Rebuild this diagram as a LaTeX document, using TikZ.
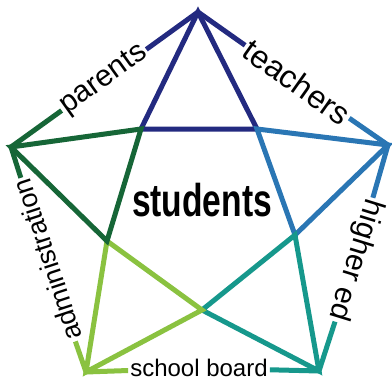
\documentclass[tikz,border=0pt]{standalone}
\usepackage{fontspec}
\usepackage{graphicx}
\setmainfont{Liberation Sans}
\definecolor{cnavy}{RGB}{35,42,128}
\definecolor{cblue}{RGB}{42,118,180}
\definecolor{cteal}{RGB}{22,152,140}
\definecolor{clgreen}{RGB}{138,194,64}
\definecolor{cdgreen}{RGB}{22,102,55}
\tikzset{
  edge/.style={line width=5pt, line join=miter, line cap=butt},
  lab/.style={inner sep=2pt, text=black},
}
\begin{document}
\begin{tikzpicture}[x=1pt,y=-1pt]
\useasboundingbox (0,0) rectangle (392,381);
% outer vertices
\coordinate (T) at (198,12);
\coordinate (R) at (388,145);
\coordinate (BR) at (319,371);
\coordinate (BL) at (86,372);
\coordinate (L) at (11,147);
% inner vertices
\coordinate (UL) at (141,129);
\coordinate (UR) at (257,129);
\coordinate (LR) at (295,235);
\coordinate (B) at (202,310);
\coordinate (LL) at (107,241);
% labels
\node[lab, rotate=35.7, font=\fontsize{30}{32}\selectfont] (parents) at (104,80) {parents};
\node[lab, rotate=-35.3, font=\fontsize{32}{34}\selectfont] (teachers) at (297,82) {teachers};
\node[lab, rotate=-107.2, font=\fontsize{30}{32}\selectfont] (higher) at (355,260) {higher ed};
\node[lab, font=\fontsize{24}{26}\selectfont] (board) at (199,368) {school board};
\node[lab, rotate=108.2, font=\fontsize{27}{29}\selectfont] (admin) at (47,260) {administration};
\node[lab, font=\bfseries\fontsize{46}{48}\selectfont] (students) at (202,200) {\scalebox{0.73}[1]{students}};
% star triangles
\draw[edge, cnavy] (T) -- (UL) -- (UR) -- cycle;
\draw[edge, cblue] (R) -- (UR) -- (LR) -- cycle;
\draw[edge, cteal] (BR) -- (LR) -- (B) -- cycle;
\draw[edge, clgreen] (BL) -- (B) -- (LL) -- cycle;
\draw[edge, cdgreen] (L) -- (LL) -- (UL) -- cycle;
% outer edges
\draw[edge, cnavy] (T) -- (parents);
\draw[edge, cdgreen] (parents) -- (L);
\draw[edge, cnavy] (T) -- (teachers);
\draw[edge, cblue] (teachers) -- (R);
\draw[edge, cblue] (R) -- (higher);
\draw[edge, cteal] (higher) -- (BR);
\draw[edge, cteal] (BR) -- (board);
\draw[edge, clgreen] (board) -- (BL);
\draw[edge, clgreen] (BL) -- (admin);
\draw[edge, cdgreen] (admin) -- (L);
\end{tikzpicture}
\end{document}
